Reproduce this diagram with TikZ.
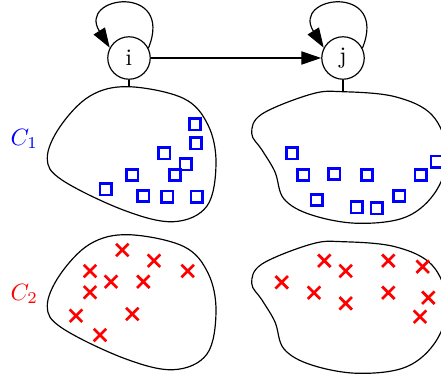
\documentclass[tikz,border=0pt]{standalone}
\usetikzlibrary{arrows.meta,shapes.misc}
\begin{document}
\begin{tikzpicture}[x=0.424pt,y=0.424pt,line width=0.5pt,
  state/.style={circle,draw,minimum size=18pt,inner sep=0pt},
  arr/.style={-{Triangle[length=8.4pt,width=5.6pt]}},
  sq/.style={rectangle,draw=blue,line width=1.15pt,minimum size=4.8pt,inner sep=0pt,outer sep=0pt},
  xx/.style={cross out,draw=red,line width=1.15pt,minimum size=5.3pt,inner sep=0pt,outer sep=0pt},
  blob/.style={draw=black,line width=0.5pt}]
\useasboundingbox (0,0) rectangle (441,-374);
% states
\node[state] (i) at (129,-58) {i};
\node[state] (j) at (343,-58) {j};
\draw[arr] (i) -- (j);
\draw[arr] (i.27) .. controls +(68:70) and +(122:62) .. (i.152);
\draw[arr] (j.27) .. controls +(68:70) and +(122:62) .. (j.152);
% blob tops
\coordinate (b1) at (129,-87);
\coordinate (b2) at (343,-92);
\draw (i.south) -- (b1);
\draw (j.south) -- (b2);
% blob shapes
\def\blobA{(128.3,-86.7) (183.3,-98.3) (208,-125) (216,-163.3) (207,-206) (173.3,-221.7) (123.3,-210) (62,-180) (47.3,-158.3) (60,-126.7) (90,-96)}
\def\blobB{(342.7,-91.7) (395,-96.7) (432,-115) (447,-152) (436.7,-190) (406.7,-216.7) (358.3,-223.3) (311.7,-215) (284,-199) (275,-172) (262,-150) (251.7,-133.3) (262,-114) (311.7,-94)}
\draw[blob] plot[smooth cycle,tension=0.6] coordinates {\blobA};
\draw[blob] plot[smooth cycle,tension=0.6] coordinates {\blobB};
\begin{scope}[shift={(0,-148)}]
\draw[blob] plot[smooth cycle,tension=0.6] coordinates {\blobA};
\end{scope}
\begin{scope}[shift={(0,-150)}]
\draw[blob] plot[smooth cycle,tension=0.6] coordinates {\blobB};
\end{scope}
% labels
\node[blue,anchor=base west,inner sep=0pt] (c1) at (10,-145) {$C_1$};
\node[red,anchor=base west,inner sep=0pt] (c2) at (10,-300) {$C_2$};
% squares
\foreach \px/\py [count=\n] in {195/124.3,196/143.3,164.3/153.3,185.7/164.3,175/175,132.3/175,105.7/189.3,143.3/196,167.3/196.7,196.7/196.7}
  \node[sq] (sa\n) at (\px,-\py) {};
\foreach \px/\py [count=\n] in {292/153.3,303.3/175,334.3/174,367/175,420.7/175,436.7/161.7,316.7/200,356.7/207.3,376.7/208.3,399.3/196}
  \node[sq] (sb\n) at (\px,-\py) {};
% crosses
\foreach \px/\py [count=\n] in {122.3/250,154/260.7,187.7/271,90/271,111/281.7,143.3/281.7,90/292.3,76/315.7,132.3/314,100/335}
  \node[xx] (xa\n) at (\px,-\py) {};
\foreach \px/\py [count=\n] in {324.3/260.7,345.7/271,388.3/260.7,422.7/266.7,281.7/282.3,314/292.7,345.7/303.3,388.3/292.7,428.3/297.7,420/316.7}
  \node[xx] (xb\n) at (\px,-\py) {};
\end{tikzpicture}
\end{document}
